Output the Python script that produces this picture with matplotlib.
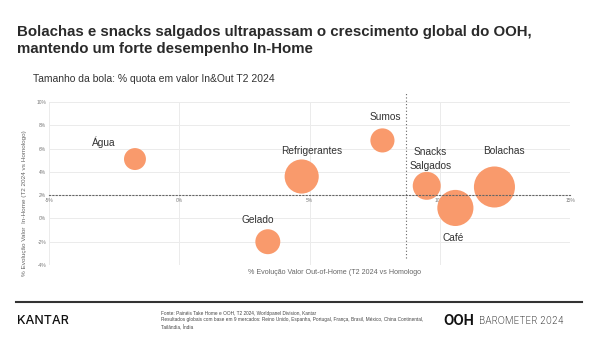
import numpy as np
import matplotlib
matplotlib.use('Agg')
import matplotlib.pyplot as plt

plt.rcParams['font.family'] = ['Liberation Sans', 'DejaVu Sans']

# Data
categories = ['Água', 'Refrigerantes', 'Gelado', 'Sumos', 'Snacks\nSalgados', 'Café', 'Bolachas']
ooh_growth = [-1.7, 4.7, 3.4, 7.8, 9.5, 10.6, 12.1]      # % Evolução Out-of-Home
inhome_growth = [5.1, 3.6, -2.0, 6.7, 2.8, 0.9, 2.7]     # % Evolução In-Home
value_share = [2.4, 5.8, 3.1, 2.9, 3.9, 6.5, 8.4]        # % quota em valor In&Out

global_ooh = 8.7      # crescimento global OOH
inhome_ref = 2.0      # linha de referência In-Home

xticks = [-5, 0, 5, 10, 15]
yticks = [-4, -2, 0, 2, 4, 6, 8, 10]

# label offsets in data units (layout only)
label_offsets = [(-1.2, 1.45), (0.4, 2.15), (-0.4, 1.9), (0.1, 2.05),
                 (0.15, 2.3), (-0.1, -2.55), (0.35, 3.1)]

bubble_color = '#F99A6C'
grid_color = '#EBEBEB'

fig = plt.figure(figsize=(6, 3.38), dpi=100)
ax = fig.add_axes([49 / 600, 1 - 265 / 338, 521 / 600, 163 / 338])

ax.scatter(ooh_growth, inhome_growth, s=np.array(value_share) * 104,
           color=bubble_color, edgecolors='none', zorder=3)

for name, x, y, (dx, dy) in zip(categories, ooh_growth, inhome_growth, label_offsets):
    ax.text(x + dx, y + dy, name, ha='center', va='center', fontsize=7.3,
            color='#333333', linespacing=1.4, zorder=4)

ax.set_xlim(-5, 15)
ax.set_ylim(-4, 10)
ax.set_xticks(xticks)
ax.set_yticks(yticks)
ax.set_xticklabels([f'{t}%' for t in xticks])
ax.set_yticklabels([f'{t}%' for t in yticks])
ax.tick_params(length=0, labelsize=3.5, colors='#777777', pad=2)

ax.grid(True, color=grid_color, linewidth=0.7, zorder=0)
ax.get_xgridlines()[-1].set_visible(False)
for side in ['top', 'right', 'left']:
    ax.spines[side].set_visible(False)

# x axis crosses at the In-Home reference line
ax.spines['bottom'].set_position(('data', inhome_ref))
ax.spines['bottom'].set_linestyle((0, (1, 2)))
ax.spines['bottom'].set_color('#666666')
ax.spines['bottom'].set_linewidth(0.8)
ax.spines['bottom'].set_zorder(5)

ax.axvline(global_ooh, ymin=0.046, ymax=1.06, color='#666666', linewidth=0.8,
           linestyle=(0, (1, 2)), clip_on=False, zorder=5)

fig.text(25 / 600, 1 - 203 / 338, '% Evolução Valor  In-Home (T2 2024 vs Homologo)',
         fontsize=4.6, color='#666666', rotation=90, ha='center', va='center')
fig.text(334 / 600, 1 - 273 / 338, '% Evolução Valor Out-of-Home (T2 2024 vs Homologo',
         fontsize=5.1, color='#666666', ha='center', va='center')

# titles
fig.text(17 / 600, 1 - 32 / 338, 'Bolachas e snacks salgados ultrapassam o crescimento global do OOH,',
         fontsize=10.85, fontweight='bold', color='#2a2a2a', va='center')
fig.text(17 / 600, 1 - 49 / 338, 'mantendo um forte desempenho In-Home',
         fontsize=10.85, fontweight='bold', color='#2a2a2a', va='center')
fig.text(33 / 600, 1 - 79 / 338, 'Tamanho da bola: % quota em valor In&Out T2 2024',
         fontsize=7.5, color='#333333', va='center')

# footer
fig.add_artist(plt.Line2D([16 / 600, 582 / 600], [1 - 302 / 338, 1 - 302 / 338],
                          color='#333333', linewidth=1.5))
fig.text(17 / 600, 1 - 321 / 338, 'KANTAR', fontsize=9, family='Inter',
         fontweight='medium', color='#111111', va='center')
fig.text(161 / 600, 1 - 320 / 338,
         'Fonte: Painéis Take Home e OOH, T2 2024, Worldpanel Division, Kantar\n'
         'Resultados globais com base em 9 mercados: Reino Unido, Espanha, Portugal, França, Brasil, México, China Continental,\n'
         'Tailândia, Índia',
         fontsize=3.4, color='#444444', va='center', linespacing=1.3)
fig.text(443 / 600, 1 - 321 / 338, 'OOH', fontsize=9.7, family='Inter', fontweight='bold',
         color='#111111', va='center')
fig.text(479 / 600, 1 - 321 / 338, 'BAROMETER 2024', fontsize=7.0, family='Inter',
         fontweight='light', color='#222222', va='center')

fig.savefig('out.png', dpi=100)
